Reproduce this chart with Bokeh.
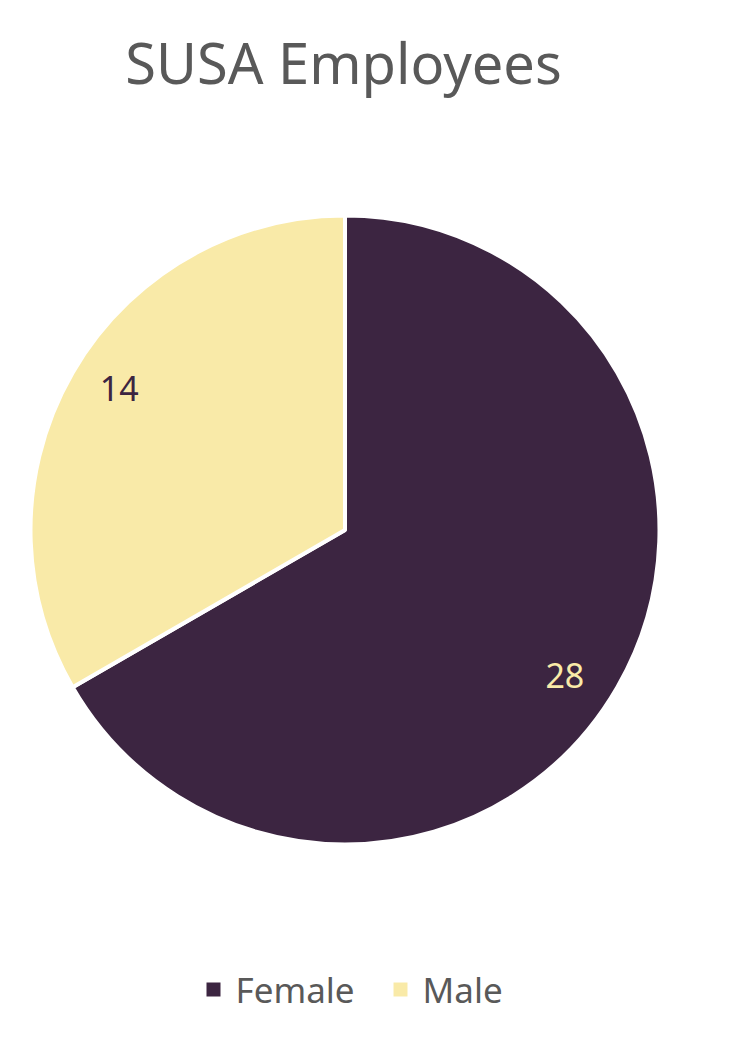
import math
from bokeh.plotting import figure
from bokeh.models import ColumnDataSource
from bokeh.core.properties import value
from bokeh.embed import file_html
from bokeh.resources import INLINE

categories = ["Female", "Male"]
counts = [28, 14]
colors = ["#3C2541", "#F9EAA8"]
label_colors = ["#F9EAA8", "#3C2541"]
title_text = "SUSA Employees"

W, H = 727, 1030
FONT = "Noto Sans"

p = figure(width=W, height=H, x_range=(0, W), y_range=(0, H),
           output_backend="svg", toolbar_location=None, min_border=0,
           outline_line_color=None)
p.axis.visible = False
p.grid.visible = False
p.background_fill_color = "white"
p.border_fill_color = "white"

cx, cy, r = 344.5, H - 529.5, 314.5
total = sum(counts)
starts, ends, lx, ly = [], [], [], []
a = math.pi / 2
lab_off = math.radians(-2.8)
for c in counts:
    sweep = 2 * math.pi * c / total
    starts.append(a - sweep)
    ends.append(a)
    mid = a - sweep / 2 + lab_off
    lx.append(cx - 3 + 0.843 * r * math.cos(mid))
    ly.append(cy - 2 + 0.843 * r * math.sin(mid))
    a -= sweep

src = ColumnDataSource(dict(start=starts, end=ends, color=colors, cat=categories,
                            lx=lx, ly=ly, lab=[str(c) for c in counts], lc=label_colors))
p.wedge(x=cx, y=cy, radius=r, start_angle="start", end_angle="end",
        fill_color="color", line_color="white", line_width=4, source=src)
p.text(x="lx", y="ly", text="lab", text_color="lc", text_font=value(FONT),
       text_font_size="34px", text_align="center", text_baseline="middle", source=src)

p.text(x=[343], y=[H - 61], text=[title_text], text_color="#595959",
       text_font=value(FONT), text_font_size="56px", text_align="center",
       text_baseline="middle")

# legend
leg_x = [206, 393]
leg_y = H - 989
p.rect(x=[x + 7 for x in leg_x], y=[leg_y] * 2, width=14, height=14,
       fill_color=colors, line_color=None)
p.text(x=[x + 29 for x in leg_x], y=[leg_y] * 2, text=categories, text_color="#595959",
       text_font=value(FONT), text_font_size="35px", text_align="left",
       text_baseline="middle")

open("out.html", "w").write(file_html(p, INLINE))
